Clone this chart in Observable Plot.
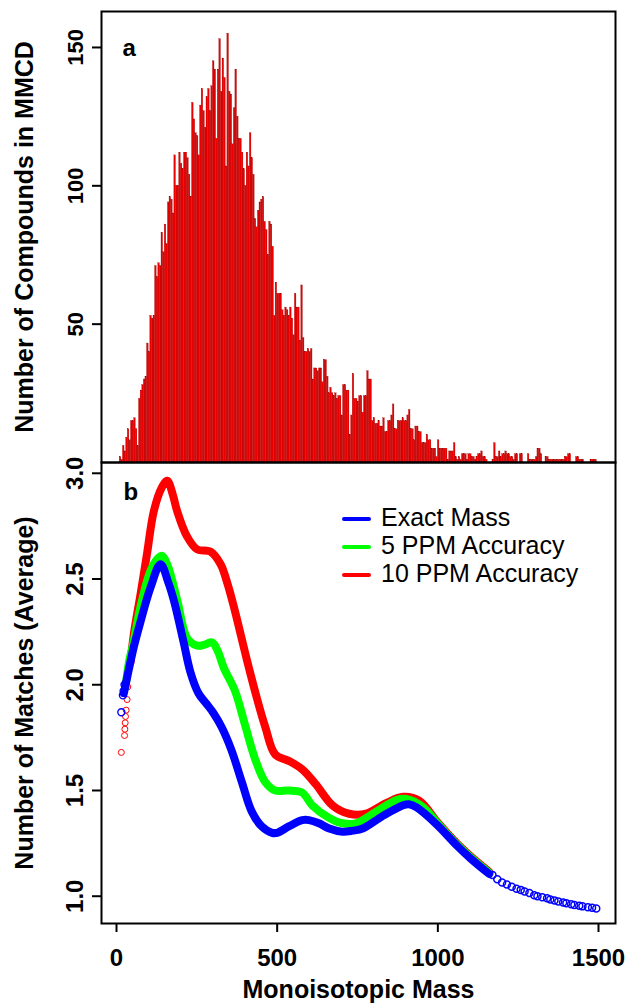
<!DOCTYPE html>
<html><head><meta charset="utf-8">
<script src="https://cdn.jsdelivr.net/npm/d3@7"></script>
<script src="https://cdn.jsdelivr.net/npm/@observablehq/plot@0.6"></script>
<style>
body{margin:0;background:#fff;}
#wrap{position:relative;width:627px;height:1003px;font-family:"Liberation Sans",Arial,sans-serif;overflow:hidden;}
#wrap > svg{display:block;}
#legend{position:absolute;left:0;top:0;pointer-events:none;}
</style></head><body><div id="wrap"></div>
<script>
// ---------- DATA ----------
// Panel a: histogram of monoisotopic masses (5 Da bins starting at 0)
const binWidth = 5;
const histCounts = [
  0,0,2,1,6,4,9,12,8,15,
  15,16,12,6,23,26,28,30,31,43,
  40,53,52,53,71,67,72,71,83,76,
  86,79,94,96,95,90,111,100,100,112,
  108,106,112,112,110,104,96,130,124,119,
  118,111,129,135,127,121,132,135,127,136,
  145,142,117,142,153,134,146,139,107,155,
  134,133,115,128,142,125,117,117,112,106,
  100,112,107,119,110,104,88,85,91,94,
  95,96,87,84,75,87,86,78,53,65,
  61,61,61,55,53,56,55,53,56,52,
  46,61,56,56,44,64,45,40,40,41,
  40,41,30,34,34,33,34,34,29,37,
  37,31,25,27,25,24,25,23,24,24,
  17,28,28,26,26,10,17,32,23,23,
  22,24,24,18,24,24,33,30,30,15,
  16,14,14,15,13,13,16,11,11,15,
  15,17,21,12,12,15,15,15,16,15,
  15,17,19,12,12,8,13,13,11,11,
  7,7,7,10,8,8,5,5,5,2,
  8,5,5,5,5,5,1,4,4,4,
  7,2,1,2,1,3,3,3,1,3,
  3,2,2,1,2,3,3,4,2,2,
  1,0,0,0,1,7,2,2,4,2,
  3,3,4,3,3,2,2,1,3,3,
  0,3,3,0,0,0,3,1,1,1,
  1,2,5,5,3,0,0,2,2,1,
  1,1,1,1,1,1,1,1,1,2,
  2,3,3,0,0,0,2,2,1,1,
  1,0,0,0,0,1,1,1,1,0
];

// Panel b: average number of matches vs mass
const seriesNames = ["Exact Mass", "5 PPM Accuracy", "10 PPM Accuracy"];
const seriesColors = ["#0000ff", "#00ff00", "#ff0000"];

const exactMass = [23,38,54,75,106,137,162,180,209,230,255,280,300,327,358,390,421,452,484,500,536,578,599,630,662,703,735,766,829,892,910,934,996,1059,1101,1160];
const exactVal  = [1.96,2.07,2.18,2.30,2.46,2.57,2.48,2.39,2.20,2.06,1.96,1.91,1.87,1.80,1.69,1.54,1.40,1.33,1.30,1.30,1.33,1.36,1.36,1.345,1.32,1.305,1.31,1.32,1.38,1.43,1.435,1.42,1.34,1.24,1.18,1.105];

const ppm5Mass = [28,38,54,75,106,130,142,160,189,220,251,275,298,315,334,369,400,431,463,494,536,578,609,662,703,745,808,871,902,955,996,1059,1101,1160];
const ppm5Val  = [1.99,2.10,2.21,2.37,2.54,2.60,2.61,2.56,2.40,2.22,2.185,2.19,2.20,2.16,2.08,1.97,1.81,1.65,1.54,1.50,1.50,1.49,1.43,1.37,1.345,1.345,1.40,1.455,1.46,1.42,1.35,1.245,1.185,1.11];

const ppm10Mass = [44,54,75,95,116,140,158,175,189,220,251,292,324,345,365,407,438,463,494,536,578,620,672,724,776,839,892,944,996,1059,1101,1160];
const ppm10Val  = [2.11,2.24,2.43,2.62,2.82,2.93,2.965,2.90,2.82,2.70,2.64,2.63,2.57,2.48,2.37,2.11,1.93,1.80,1.67,1.64,1.60,1.53,1.43,1.39,1.39,1.44,1.47,1.45,1.355,1.25,1.19,1.115];

// scattered circles at the low-mass end
const redDotMass = [15,25,26,27,28,30,33,35];
const redDotVal  = [1.68,1.76,1.79,1.82,1.85,1.88,1.93,1.99];
const blueDotMass = [15,20,22,25];
const blueDotVal  = [1.87,1.95,1.97,2.00];
const greenDotMass = [24,27];
const greenDotVal  = [1.98,2.01];

// blue circles of the high-mass tail
const tailMass = [1170,1185,1200,1215,1230,1245,1258,1270,1285,1300,1310,1325,1340,1350,1363,1375,1390,1400,1415,1425,1440,1450,1467,1480,1493];
const tailVal  = [1.10,1.08,1.065,1.055,1.045,1.035,1.03,1.022,1.015,1.005,1.0,0.995,0.99,0.985,0.98,0.975,0.97,0.967,0.962,0.958,0.955,0.952,0.948,0.945,0.942];

// axes
const xTicks = [0, 500, 1000, 1500];
const yTicksA = [50, 100, 150];
const yTicksB = [1.0, 1.5, 2.0, 2.5, 3.0];
const yTitleA = "Number of Compounds in MMCD";
const yTitleB = "Number of Matches (Average)";
const xTitle = "Monoisotopic Mass";

// ---------- CHART ----------
const W = 627, ML = 101, MR = 12;
const font = "Liberation Sans, Arial, Helvetica, sans-serif";
const xDomain = [-46.7, 1552.9];

const hist = histCounts.map((c, i) => ({x1: i * binWidth, x2: (i + 1) * binWidth, c}));

const plotA = Plot.plot({
  width: W, height: 462,
  marginTop: 11, marginBottom: 0, marginLeft: ML, marginRight: MR,
  x: {domain: xDomain, axis: null},
  y: {domain: [0, 163], axis: null},
  style: {fontFamily: font, background: "white", overflow: "visible"},
  marks: [
    Plot.rectY(hist, {x1: "x1", x2: "x2", y: "c", fill: "#ea0000", stroke: "#8a0000", strokeWidth: 0.25}),
    Plot.axisY({ticks: yTicksA, tickFormat: d3.format("d"), tickSize: 9, tickPadding: 10, tickRotate: -90, fontSize: 22, fontWeight: "bold", label: null, strokeWidth: 2}),
    Plot.text([yTitleA], {frameAnchor: "left", rotate: -90, dx: -69, textAnchor: "middle", lineAnchor: "bottom", fontSize: 25, fontWeight: "bold"}),
    Plot.text(["a"], {frameAnchor: "top-left", dx: 21, dy: 44, lineAnchor: "bottom", textAnchor: "start", fontSize: 24, fontWeight: "bold"}),
    Plot.frame({stroke: "black", strokeWidth: 2})
  ]
});

const mk = (ms, vs) => ms.map((m, i) => ({m, v: vs[i]}));

const plotB = Plot.plot({
  width: W, height: 541,
  marginTop: 0, marginBottom: 80, marginLeft: ML, marginRight: MR,
  x: {domain: xDomain, axis: null},
  y: {domain: [0.871, 3.051], axis: null},
  style: {fontFamily: font, background: "white", overflow: "visible"},
  marks: [
    Plot.line(mk(ppm10Mass, ppm10Val), {x: "m", y: "v", stroke: seriesColors[2], strokeWidth: 8, curve: "catmull-rom", strokeLinecap: "round"}),
    Plot.dot(mk(redDotMass, redDotVal), {x: "m", y: "v", r: 3, stroke: seriesColors[2], fill: "none", strokeWidth: 1}),
    Plot.line(mk(ppm5Mass, ppm5Val), {x: "m", y: "v", stroke: seriesColors[1], strokeWidth: 8, curve: "catmull-rom", strokeLinecap: "round"}),
    Plot.dot(mk(greenDotMass, greenDotVal), {x: "m", y: "v", r: 3, stroke: "#00b000", fill: "none", strokeWidth: 1}),
    Plot.line(mk(exactMass, exactVal), {x: "m", y: "v", stroke: seriesColors[0], strokeWidth: 8, curve: "catmull-rom", strokeLinecap: "round"}),
    Plot.dot(mk(blueDotMass, blueDotVal), {x: "m", y: "v", r: 3.5, stroke: seriesColors[0], fill: "none", strokeWidth: 1.4}),
    Plot.dot(mk(tailMass, tailVal), {x: "m", y: "v", r: 3.5, stroke: seriesColors[0], fill: "none", strokeWidth: 1.5}),
    Plot.axisX({ticks: xTicks, tickFormat: d3.format("d"), tickSize: 9, tickPadding: 16, fontSize: 24, fontWeight: "bold", label: null, strokeWidth: 2}),
    Plot.axisY({ticks: yTicksB, tickFormat: d3.format(".1f"), tickSize: 9, tickPadding: 10, tickRotate: -90, fontSize: 24, fontWeight: "bold", label: null, strokeWidth: 2}),
    Plot.text([yTitleB], {frameAnchor: "left", rotate: -90, dx: -69, textAnchor: "middle", lineAnchor: "bottom", fontSize: 25, fontWeight: "bold"}),
    Plot.text([xTitle], {frameAnchor: "bottom", dy: 74, textAnchor: "middle", lineAnchor: "bottom", fontSize: 25, fontWeight: "bold"}),
    Plot.text(["b"], {frameAnchor: "top-left", dx: 22, dy: 37, lineAnchor: "bottom", textAnchor: "start", fontSize: 24, fontWeight: "bold"}),
    Plot.frame({stroke: "black", strokeWidth: 2})
  ]
});

const wrap = document.getElementById("wrap");
wrap.appendChild(plotA);
wrap.appendChild(plotB);

// legend (inside panel b, top right)
const leg = d3.select(wrap).append("svg").attr("id", "legend").attr("width", W).attr("height", 1003);
const legOrder = [0, 1, 2];
legOrder.forEach((k, i) => {
  const cy = 519 + i * 28;
  leg.append("line").attr("x1", 344).attr("x2", 369).attr("y1", cy).attr("y2", cy)
    .attr("stroke", seriesColors[k]).attr("stroke-width", 4).attr("stroke-linecap", "round");
  leg.append("text").attr("x", 381).attr("y", cy + 7).attr("font-family", font)
    .attr("font-size", 25).attr("fill", "black").text(seriesNames[k]);
});
</script></body></html>
